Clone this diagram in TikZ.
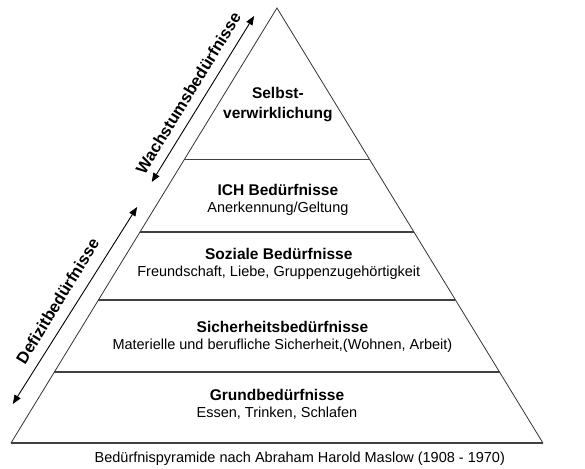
\documentclass[tikz,border=0pt]{standalone}
\usepackage{fontspec}
\setmainfont{Liberation Sans}
\usetikzlibrary{calc,arrows.meta}

\tikzset{
  side/.style={draw=black!80, line width=0.8pt},
  layer/.style={draw=black!75, line width=1.3pt},
  needs/.style={<->, >={Triangle[length=9pt,width=7pt]}, line width=0.9pt},
  level/.style={align=center, inner sep=0pt, font=\fontsize{14.5}{17}\selectfont},
  tag/.style={inner sep=0pt, rotate=58.5, font=\fontsize{16.5}{18}\selectfont\bfseries}
}
\newcommand{\kopf}[1]{{\fontsize{15.5}{17}\selectfont\bfseries #1}}

\begin{document}
\begin{tikzpicture}[x=0.914pt,y=-1pt]
  \useasboundingbox (0,0) rectangle (640,468);
  \clip (0,0) rectangle (640,468);

  % Pyramid
  \coordinate (apex) at (303,8);
  \coordinate (bl) at (12,443);
  \coordinate (br) at (594,443);
  \draw[side] (bl) -- (apex) -- (br);
  \draw[layer] (bl) -- (br);

  % Layer lines
  \draw[layer] ($(bl)!0.651!(apex)$) -- ($(br)!0.651!(apex)$);
  \draw[layer] ($(bl)!0.485!(apex)$) -- ($(br)!0.485!(apex)$);
  \draw[layer] ($(bl)!0.329!(apex)$) -- ($(br)!0.329!(apex)$);
  \draw[layer] ($(bl)!0.163!(apex)$) -- ($(br)!0.163!(apex)$);

  % Levels
  \node[level] (selbst) at (304,105) {\kopf{Selbst-}\\[3pt]\kopf{verwirklichung}};
  \node[level] (ich) at (304,200) {\kopf{ICH Bedürfnisse}\\Anerkennung/Geltung};
  \node[level] (sozial) at (305,264) {\kopf{Soziale Bedürfnisse}\\Freundschaft, Liebe, Gruppenzugehörtigkeit};
  \node[level] (sicher) at (309,337) {\kopf{Sicherheitsbedürfnisse}\\Materielle und berufliche Sicherheit,(Wohnen, Arbeit)};
  \node[level] (grund) at (303,404) {\kopf{Grundbedürfnisse}\\Essen, Trinken, Schlafen};

  % Caption
  \node[level] (titel) at (328,459) {Bedürfnispyramide nach Abraham Harold Maslow (1908 - 1970)};

  % Arrows
  \coordinate (w1) at (166,182);
  \coordinate (w2) at (278,16);
  \draw[needs] (w1) -- (w2);
  \node[tag] (wachstum) at (206,93) {Wachstumsbedürfnisse};

  \coordinate (d1) at (14,404);
  \coordinate (d2) at (150,207);
  \draw[needs] (d1) -- (d2);
  \node[tag] (defizit) at (63,301) {Defizitbedürfnisse};
\end{tikzpicture}
\end{document}
